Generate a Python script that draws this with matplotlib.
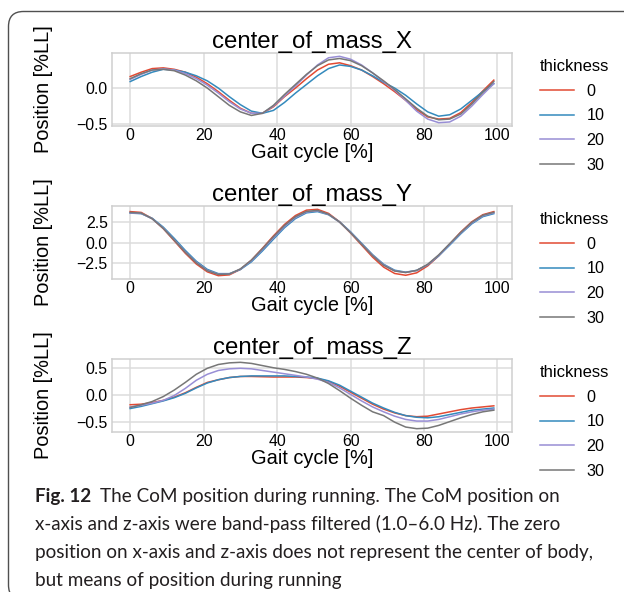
import numpy as np
import matplotlib
matplotlib.use("Agg")
import matplotlib.pyplot as plt
from matplotlib.patches import FancyBboxPatch

W, H = 624, 592

gait = np.arange(0, 100, 3)
thickness = ["0", "10", "20", "30"]
colors = ["#E24A33", "#348ABD", "#988ED5", "#777777"]

# center of mass, x-axis (band-pass filtered)
com_x_0 = [0.16, 0.22, 0.27, 0.28, 0.26, 0.22, 0.15, 0.06, -0.05, -0.17, -0.28, -0.35,
           -0.35, -0.26, -0.12, 0.00, 0.13, 0.25, 0.33, 0.35, 0.31, 0.25, 0.16, 0.06,
           -0.05, -0.17, -0.30, -0.40, -0.43, -0.42, -0.34, -0.20, -0.04, 0.11]
com_x_10 = [0.09, 0.16, 0.22, 0.26, 0.25, 0.22, 0.17, 0.10, 0.00, -0.12, -0.23, -0.32,
            -0.35, -0.31, -0.20, -0.07, 0.05, 0.17, 0.27, 0.32, 0.30, 0.25, 0.17, 0.08,
            0.00, -0.10, -0.22, -0.33, -0.39, -0.37, -0.29, -0.17, -0.05, 0.06]
com_x_20 = [0.12, 0.19, 0.25, 0.265, 0.25, 0.20, 0.13, 0.04, -0.07, -0.19, -0.29, -0.35,
            -0.35, -0.25, -0.11, 0.03, 0.18, 0.32, 0.42, 0.44, 0.40, 0.32, 0.21, 0.09,
            -0.03, -0.17, -0.32, -0.43, -0.48, -0.47, -0.39, -0.25, -0.09, 0.06]
com_x_30 = [0.13, 0.20, 0.25, 0.26, 0.24, 0.18, 0.10, 0.00, -0.12, -0.24, -0.33, -0.38,
            -0.35, -0.24, -0.09, 0.05, 0.19, 0.31, 0.39, 0.41, 0.38, 0.31, 0.21, 0.10,
            -0.02, -0.15, -0.28, -0.39, -0.44, -0.43, -0.36, -0.22, -0.06, 0.09]

# center of mass, y-axis
com_y_0 = [3.80, 3.70, 2.95, 1.72, 0.22, -1.30, -2.62, -3.58, -4.05, -3.95, -3.28, -2.15,
           -0.70, 0.82, 2.22, 3.32, 3.98, 4.08, 3.58, 2.55, 1.18, -0.30, -1.78, -3.00,
           -3.78, -4.00, -3.70, -2.85, -1.62, -0.18, 1.30, 2.55, 3.42, 3.80]
com_y_10 = [3.62, 3.55, 2.98, 1.90, 0.52, -0.95, -2.28, -3.28, -3.80, -3.80, -3.30, -2.35,
            -1.02, 0.42, 1.82, 2.95, 3.65, 3.80, 3.42, 2.55, 1.32, -0.08, -1.48, -2.65,
            -3.38, -3.62, -3.40, -2.72, -1.62, -0.30, 1.08, 2.30, 3.18, 3.55]
com_y_20 = [3.65, 3.58, 2.92, 1.78, 0.35, -1.12, -2.42, -3.40, -3.88, -3.85, -3.25, -2.22,
            -0.85, 0.60, 1.98, 3.08, 3.75, 3.90, 3.45, 2.52, 1.25, -0.15, -1.55, -2.72,
            -3.45, -3.66, -3.42, -2.70, -1.55, -0.20, 1.18, 2.40, 3.28, 3.65]
com_y_30 = [3.70, 3.62, 2.92, 1.75, 0.30, -1.18, -2.48, -3.45, -3.90, -3.85, -3.22, -2.15,
            -0.75, 0.72, 2.10, 3.18, 3.82, 3.95, 3.48, 2.52, 1.22, -0.20, -1.60, -2.78,
            -3.48, -3.66, -3.40, -2.66, -1.50, -0.12, 1.25, 2.48, 3.35, 3.72]

# center of mass, z-axis (band-pass filtered)
com_z_0 = [-0.18, -0.17, -0.14, -0.10, -0.04, 0.04, 0.14, 0.23, 0.28, 0.32, 0.34, 0.34,
           0.335, 0.33, 0.33, 0.33, 0.32, 0.30, 0.25, 0.16, 0.05, -0.06, -0.17, -0.26,
           -0.33, -0.38, -0.40, -0.39, -0.35, -0.31, -0.27, -0.24, -0.22, -0.20]
com_z_10 = [-0.25, -0.21, -0.16, -0.11, -0.05, 0.03, 0.13, 0.22, 0.28, 0.32, 0.34, 0.35,
            0.35, 0.35, 0.35, 0.34, 0.33, 0.31, 0.26, 0.18, 0.07, -0.04, -0.15, -0.24,
            -0.32, -0.38, -0.41, -0.42, -0.40, -0.36, -0.32, -0.28, -0.26, -0.24]
com_z_20 = [-0.22, -0.19, -0.15, -0.10, -0.01, 0.12, 0.27, 0.38, 0.45, 0.48, 0.49, 0.48,
            0.45, 0.42, 0.39, 0.36, 0.33, 0.29, 0.23, 0.13, 0.01, -0.11, -0.22, -0.31,
            -0.39, -0.45, -0.48, -0.48, -0.45, -0.40, -0.35, -0.31, -0.28, -0.26]
com_z_30 = [-0.23, -0.18, -0.12, -0.03, 0.09, 0.23, 0.38, 0.49, 0.56, 0.59, 0.60, 0.58,
            0.54, 0.50, 0.47, 0.43, 0.38, 0.31, 0.21, 0.08, -0.06, -0.19, -0.31, -0.38,
            -0.50, -0.59, -0.62, -0.61, -0.56, -0.49, -0.42, -0.36, -0.31, -0.28]

panels = [
    ("center_of_mass_X", [com_x_0, com_x_10, com_x_20, com_x_30], [-0.5, 0.0]),
    ("center_of_mass_Y", [com_y_0, com_y_10, com_y_20, com_y_30], [-2.5, 0.0, 2.5]),
    ("center_of_mass_Z", [com_z_0, com_z_10, com_z_20, com_z_30], [-0.5, 0.0, 0.5]),
]
xticks = [0, 20, 40, 60, 80, 100]

caption_bold = "Fig. 12"
caption_lines = [
    "The CoM position during running. The CoM position on",
    "x-axis and z-axis were band-pass filtered (1.0\u20136.0 Hz). The zero",
    "position on x-axis and z-axis does not represent the center of body,",
    "but means of position during running",
]

plt.rcParams["font.family"] = ["Liberation Sans", "DejaVu Sans"]

fig = plt.figure(figsize=(W / 100, H / 100), dpi=100)


def fx(px):
    return px / W


def fy(py):
    return 1 - py / H


# rounded frame around the figure block
frame = FancyBboxPatch((8.5, -8), 700, H - 11.5 + 8,
                       boxstyle="round,pad=0,rounding_size=15",
                       transform=None, facecolor="none", edgecolor="#505050",
                       linewidth=1.0, clip_on=False)
fig.patches.append(frame)

ax_left, ax_right = 112, 512
ax_tops = [53, 206, 359]
ax_h = 73

for (title, series, yticks), top in zip(panels, ax_tops):
    ax = fig.add_axes([fx(ax_left), fy(top + ax_h), fx(ax_right - ax_left), ax_h / H])
    for vals, lab, col in zip(series, thickness, colors):
        ax.plot(gait, vals, color=col, linewidth=1.1, label=lab)
    ax.set_xticks(xticks)
    ax.set_yticks(yticks)
    ax.grid(True, color="#dcdcdc", linewidth=1.1)
    ax.set_axisbelow(True)
    for sp in ax.spines.values():
        sp.set_color("#cfcfcf")
        sp.set_linewidth(1.1)
    ax.tick_params(length=0, labelsize=11.4, colors="black")
    ax.tick_params(axis="x", pad=1.5)
    ax.tick_params(axis="y", pad=3)
    ax.set_title(title, fontsize=17.3, pad=0.5)
    ax.set_xlabel("Gait cycle [%]", fontsize=14.4, labelpad=0)
    ax.set_ylabel("Position [%LL]", fontsize=14.4)
    ax.yaxis.set_label_coords(-0.147, 0.5)
    leg = ax.legend(title="thickness", loc="upper left",
                    bbox_to_anchor=(fx(540), fy(top + 6)),
                    bbox_transform=fig.transFigure, frameon=False,
                    fontsize=11.6, title_fontsize=12, borderpad=0,
                    borderaxespad=0, handlelength=2.1, handletextpad=0.8,
                    labelspacing=0.6, alignment="left")

# caption below the panels
cap_font = ["Lato", "DejaVu Sans"]
cap_size = 13.6
cap_color = "#231f20"
baselines = [502, 530, 558, 586]
bold = fig.text(fx(35), fy(baselines[0]), caption_bold, fontsize=cap_size,
                fontweight="bold", family=cap_font, color=cap_color, va="baseline")
fig.canvas.draw()
bb = bold.get_window_extent()
fig.text((bb.x1 + 9) / W, fy(baselines[0]), caption_lines[0], fontsize=cap_size,
         family=cap_font, color=cap_color, va="baseline")
for line, base in zip(caption_lines[1:], baselines[1:]):
    fig.text(fx(35), fy(base), line, fontsize=cap_size, family=cap_font,
             color=cap_color, va="baseline")

fig.savefig("out.png", dpi=100)
